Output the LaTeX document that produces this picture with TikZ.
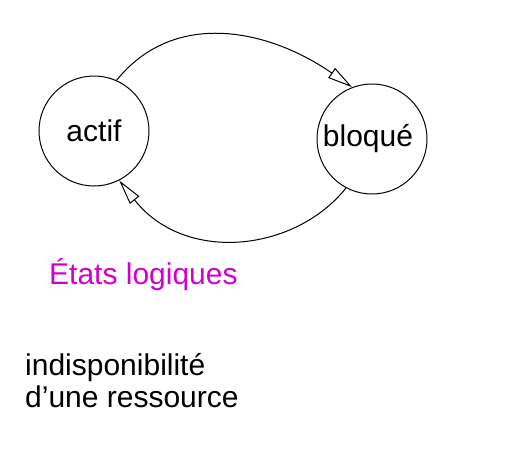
\documentclass[tikz,border=0pt]{standalone}
\usepackage{fontspec}
\setmainfont{Liberation Sans}
\usetikzlibrary{arrows.meta}
\definecolor{titlemagenta}{RGB}{208,0,208}
\begin{document}
\begin{tikzpicture}[x=1pt,y=-1pt,
  state/.style={circle,draw,line width=1pt,minimum size=110pt,inner sep=0pt,font=\fontsize{30}{32}\selectfont},
  trans/.style={line width=1pt,-{Triangle[open,length=25pt,width=12pt,line width=1pt]}},
  txt/.style={inner sep=0pt,anchor=base west,font=\fontsize{30}{32}\selectfont}]
\useasboundingbox (0,0) rectangle (509,450);
\node[state] (actif) at (94,131) {\raisebox{-2pt}{actif}};
\node[state] (bloque) at (372,139) {\hspace*{-8pt}bloqué};
\draw[trans] (actif.66) .. controls (175,8) and (270,30) .. (bloque.111);
\draw[trans] (bloque.242) .. controls (295,252) and (185,264) .. (actif.297);
\node[txt,text=titlemagenta] (titre) at (49,284) {États logiques};
\node[txt] (ligne1) at (25,375) {indisponibilité};
\node[txt] (ligne2) at (25,407) {d’une ressource};
\end{tikzpicture}
\end{document}
